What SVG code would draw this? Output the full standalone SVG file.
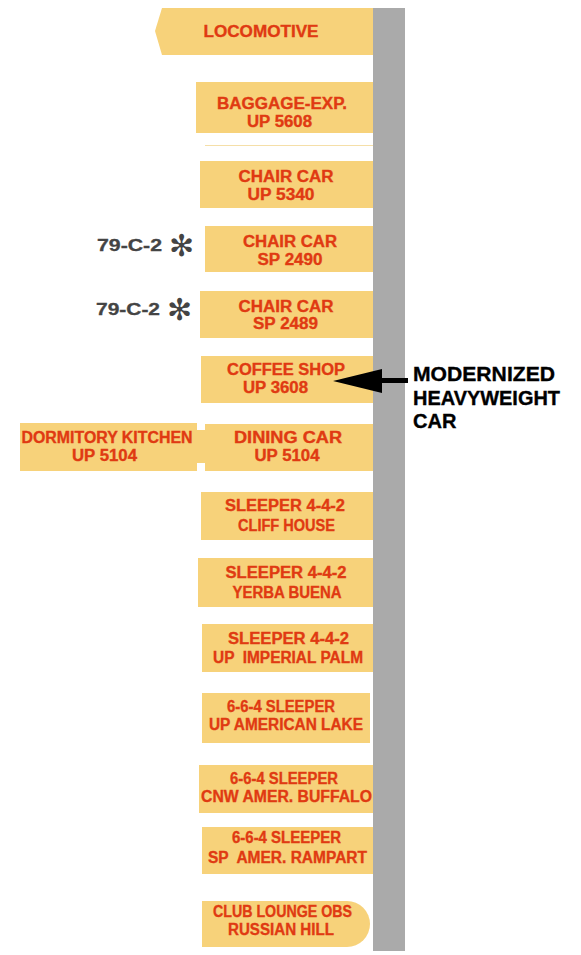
<svg xmlns="http://www.w3.org/2000/svg" width="581" height="955" viewBox="0 0 581 955">
<style>
.car{fill:#f7d27a}
.t{font-family:"Liberation Sans",Arial,sans-serif;font-weight:bold;font-size:16px;fill:#e03a12;stroke:#e03a12;stroke-width:0.35;text-anchor:middle}
.n{font-family:"Liberation Sans",Arial,sans-serif;font-weight:bold;font-size:16px;fill:#444;stroke:#444;stroke-width:0.3;text-anchor:start}
.ast{font-family:"DejaVu Sans",sans-serif;font-size:30px;fill:#444;text-anchor:middle}
.k{font-family:"Liberation Sans",Arial,sans-serif;font-weight:bold;font-size:20px;fill:#000;stroke:#000;stroke-width:0.35}
</style>
<rect width="581" height="955" fill="#fff"/>
<rect id="track" x="373" y="8" width="32" height="943" fill="#aaaaaa"/>

<g id="locomotive">
<polygon class="car" points="162,8 373,8 373,55 162,55 155,31"/>
<text class="t" x="261" y="37" textLength="115" lengthAdjust="spacingAndGlyphs">LOCOMOTIVE</text>
</g>
<g id="baggage">
<rect class="car" x="196" y="82" width="177" height="51"/>
<text class="t" x="282" y="109" textLength="130" lengthAdjust="spacingAndGlyphs">BAGGAGE-EXP.</text>
<text class="t" x="279.5" y="127" textLength="65" lengthAdjust="spacingAndGlyphs">UP 5608</text>
</g>
<rect x="205" y="145" width="168" height="1" fill="#f5dfa8"/>
<g id="chair5340">
<rect class="car" x="200" y="161" width="173" height="47"/>
<text class="t" x="286" y="182" textLength="95" lengthAdjust="spacingAndGlyphs">CHAIR CAR</text>
<text class="t" x="281" y="200" textLength="67" lengthAdjust="spacingAndGlyphs">UP 5340</text>
</g>
<g id="chair2490">
<rect class="car" x="205" y="226" width="168" height="46"/>
<text class="t" x="290" y="247" textLength="94" lengthAdjust="spacingAndGlyphs">CHAIR CAR</text>
<text class="t" x="290" y="265" textLength="65" lengthAdjust="spacingAndGlyphs">SP 2490</text>
</g>
<g id="note2490">
<text class="n" x="97" y="251" textLength="65" lengthAdjust="spacingAndGlyphs">79-C-2</text>
<text class="ast" x="181.5" y="256">✻</text>
</g>
<g id="chair2489">
<rect class="car" x="200" y="291" width="173" height="47"/>
<text class="t" x="286" y="312" textLength="95" lengthAdjust="spacingAndGlyphs">CHAIR CAR</text>
<text class="t" x="285.5" y="329" textLength="65" lengthAdjust="spacingAndGlyphs">SP 2489</text>
</g>
<g id="note2489">
<text class="n" x="96" y="315" textLength="64" lengthAdjust="spacingAndGlyphs">79-C-2</text>
<text class="ast" x="179.5" y="320">✻</text>
</g>
<g id="coffeeshop">
<rect class="car" x="201" y="356" width="172" height="47"/>
<text class="t" x="286" y="375" textLength="118" lengthAdjust="spacingAndGlyphs">COFFEE SHOP</text>
<text class="t" x="275.5" y="393" textLength="65" lengthAdjust="spacingAndGlyphs">UP 3608</text>
</g>
<g id="dormitory">
<rect class="car" x="20" y="423" width="177" height="48"/>
<text class="t" x="107" y="443" textLength="171" lengthAdjust="spacingAndGlyphs">DORMITORY KITCHEN</text>
<text class="t" x="104.5" y="461" textLength="65" lengthAdjust="spacingAndGlyphs">UP 5104</text>
</g>
<g id="dining">
<rect class="car" x="205" y="424" width="168" height="47"/>
<text class="t" x="288" y="443" textLength="108" lengthAdjust="spacingAndGlyphs">DINING CAR</text>
<text class="t" x="287" y="461" textLength="65" lengthAdjust="spacingAndGlyphs">UP 5104</text>
</g>
<g id="cliffhouse">
<rect class="car" x="201" y="492" width="172" height="48"/>
<text class="t" x="285" y="511" textLength="120" lengthAdjust="spacingAndGlyphs">SLEEPER 4-4-2</text>
<text class="t" x="286.5" y="531" textLength="97" lengthAdjust="spacingAndGlyphs">CLIFF HOUSE</text>
</g>
<g id="yerbabuena">
<rect class="car" x="198" y="558" width="175" height="49"/>
<text class="t" x="286" y="578" textLength="121" lengthAdjust="spacingAndGlyphs">SLEEPER 4-4-2</text>
<text class="t" x="287" y="598" textLength="109" lengthAdjust="spacingAndGlyphs">YERBA BUENA</text>
</g>
<g id="imperialpalm">
<rect class="car" x="202" y="624" width="171" height="48"/>
<text class="t" x="288.5" y="644" textLength="121" lengthAdjust="spacingAndGlyphs">SLEEPER 4-4-2</text>
<text class="t" x="288" y="663" textLength="150" lengthAdjust="spacingAndGlyphs" xml:space="preserve">UP  IMPERIAL PALM</text>
</g>
<g id="americanlake">
<rect class="car" x="202" y="693" width="168" height="50"/>
<text class="t" x="281" y="712" textLength="108" lengthAdjust="spacingAndGlyphs">6-6-4 SLEEPER</text>
<text class="t" x="286" y="730" textLength="154" lengthAdjust="spacingAndGlyphs">UP AMERICAN LAKE</text>
</g>
<g id="amerbuffalo">
<rect class="car" x="199" y="765" width="174" height="48"/>
<text class="t" x="284" y="784" textLength="108" lengthAdjust="spacingAndGlyphs">6-6-4 SLEEPER</text>
<text class="t" x="286.5" y="802" textLength="171" lengthAdjust="spacingAndGlyphs">CNW AMER. BUFFALO</text>
</g>
<g id="amerrampart">
<rect class="car" x="202" y="827" width="171" height="47"/>
<text class="t" x="286.5" y="843" textLength="109" lengthAdjust="spacingAndGlyphs">6-6-4 SLEEPER</text>
<text class="t" x="287.5" y="863" textLength="159" lengthAdjust="spacingAndGlyphs" xml:space="preserve">SP  AMER. RAMPART</text>
</g>
<g id="russianhill">
<path class="car" d="M202,901 H347 A23,23 0 0 1 347,947 H202 Z"/>
<text class="t" x="282.5" y="917" textLength="139" lengthAdjust="spacingAndGlyphs">CLUB LOUNGE OBS</text>
<text class="t" x="281" y="935" textLength="106" lengthAdjust="spacingAndGlyphs">RUSSIAN HILL</text>
</g>
<g id="note-modernized">
<text class="k" x="413" y="381" textLength="142" lengthAdjust="spacingAndGlyphs">MODERNIZED</text>
<text class="k" x="413" y="405" textLength="147" lengthAdjust="spacingAndGlyphs">HEAVYWEIGHT</text>
<text class="k" x="413" y="428">CAR</text>
</g>
<g id="connectors">
<rect class="car" x="195" y="430" width="12" height="33"/>
<rect x="380" y="378" width="28" height="5" fill="#000"/>
<polygon points="333,381 382,369 382,393" fill="#000"/>
</g>
</svg>
